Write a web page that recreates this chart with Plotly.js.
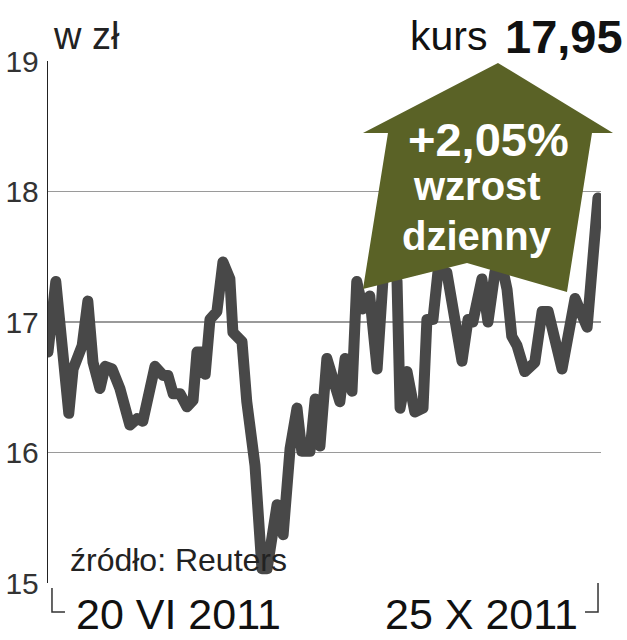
<!DOCTYPE html>
<html>
<head>
<meta charset="utf-8">
<script src="https://cdn.plot.ly/plotly-3.0.1.min.js"></script>
<style>
html,body{margin:0;padding:0;background:#fff;}
#chart{width:627px;height:640px;}
#chart .scatterlayer path.js-line{stroke-linejoin:round !important;stroke-linecap:round !important;}
</style>
</head>
<body>
<div id="chart"></div>
<script>
// day of period since 20 VI 2011 (calendar days)
var day = [0, 1.8, 4.8, 5.8, 7.9, 9.2, 10.4, 12.0, 13.2, 14.8, 16.6, 18.9, 20.6, 21.9, 24.7, 26.6, 27.7, 28.9, 30.5, 32.1,
  33.5, 34.4, 35.8, 36.3, 37.4, 39.0, 40.4, 42.0, 42.7, 44.8, 45.9, 47.8, 49.4, 50.6, 52.9, 54.3, 55.9, 57.5, 58.6, 60.5,
  61.7, 62.8, 64.4, 65.8, 67.4, 68.6, 70.2, 71.3, 72.7, 74.3, 76.0, 77.4, 79.0, 80.6, 81.3, 82.9, 84.7, 86.6, 87.5, 88.9,
  90.1, 92.1, 95.6, 97.0, 98.1, 100.2, 101.6, 103.2, 104.4, 106.0, 107.1, 108.3, 110.1, 112.4, 114.1, 115.5, 118.7, 121.7, 124.5, 127.0];
// kurs w zł
var price = [16.77, 17.31, 16.30, 16.64, 16.82, 17.16, 16.69, 16.49, 16.66, 16.64, 16.49, 16.21, 16.26, 16.24, 16.66, 16.59, 16.59, 16.45, 16.45, 16.35,
  16.40, 16.77, 16.77, 16.60, 17.02, 17.08, 17.46, 17.33, 16.92, 16.85, 16.39, 15.90, 15.11, 15.11, 15.60, 15.37, 16.03, 16.34, 16.01, 16.01,
  16.41, 16.05, 16.72, 16.54, 16.39, 16.72, 16.47, 17.31, 17.10, 17.20, 16.64, 17.35, 17.55, 17.31, 16.34, 16.62, 16.31, 16.34, 17.02, 17.02,
  17.40, 17.38, 16.70, 17.02, 17.00, 17.33, 17.00, 17.38, 17.50, 17.25, 16.89, 16.82, 16.62, 16.69, 17.08, 17.08, 16.64, 17.18, 16.96, 17.95];
var yTicks = [15, 16, 17, 18, 19];
var yTickText = ['15', '16', '17', '18', '19'];
var dateLabels = ['20 VI 2011', '25 X 2011'];

var W = 627, H = 640, L = 48, R = 601, T = 61, B = 583;
function px(x) { return (x - L) / (R - L); }
function py(y) { return (B - y) / (B - T); }
function path(pts) {
  return pts.map(function (p, i) { return (i ? 'L' : 'M') + px(p[0]).toFixed(4) + ',' + py(p[1]).toFixed(4); }).join(' ') ;
}
var F = '"Liberation Sans", Arial, sans-serif';
var arrow = [[498, 63], [613, 133], [592, 133], [567, 292], [467, 263], [363, 289], [388, 133], [363, 133]];

var trace = {
  x: day, y: price, type: 'scatter', mode: 'lines',
  line: { color: '#484848', width: 11 }, hoverinfo: 'skip'
};

var layout = {
  width: W, height: H,
  margin: { l: L, r: W - R, t: T, b: H - B, pad: 0 },
  paper_bgcolor: '#fff', plot_bgcolor: '#fff',
  showlegend: false,
  xaxis: { range: [0, 127.7], showgrid: false, zeroline: false, showticklabels: false, ticks: '', showline: false, fixedrange: true },
  yaxis: {
    range: [15, 19], tickvals: yTicks, ticktext: yTickText, showgrid: true, gridcolor: '#9a9a9a', gridwidth: 1.5,
    zeroline: false, showline: true, linecolor: '#222', linewidth: 1.2, ticks: '', ticklabelstandoff: 2,
    tickfont: { family: F, size: 30, color: '#333' }, fixedrange: true, automargin: false
  },
  shapes: [
    { type: 'path', xref: 'paper', yref: 'paper', path: path(arrow) + ' Z', fillcolor: '#5a6226', line: { width: 0 }, layer: 'above' },
    { type: 'path', xref: 'paper', yref: 'paper', path: path([[52, 588], [52, 612], [65, 612]]), line: { color: '#333', width: 1.5 } },
    { type: 'path', xref: 'paper', yref: 'paper', path: path([[598, 583], [598, 612], [585, 612]]), line: { color: '#333', width: 1.5 } }
  ],
  annotations: [
    { text: 'w zł', xref: 'paper', yref: 'paper', x: px(51), y: py(36), xanchor: 'left', yanchor: 'middle', showarrow: false, font: { family: F, size: 38, color: '#222' } },
    { text: 'kurs', xref: 'paper', yref: 'paper', x: px(489), y: py(36), xanchor: 'right', yanchor: 'middle', showarrow: false, font: { family: F, size: 41, color: '#111' } },
    { text: '<b>17,95</b>', xref: 'paper', yref: 'paper', x: px(625), y: py(36), xanchor: 'right', yanchor: 'middle', showarrow: false, font: { family: F, size: 47, color: '#111' } },
    { text: '<b>+2,05%</b>', xref: 'paper', yref: 'paper', x: px(488), y: py(139), xanchor: 'center', yanchor: 'middle', showarrow: false, font: { family: F, size: 47, color: '#fff' } },
    { text: '<b>wzrost</b>', xref: 'paper', yref: 'paper', x: px(477), y: py(186), xanchor: 'center', yanchor: 'middle', showarrow: false, font: { family: F, size: 40, color: '#fff' } },
    { text: '<b>dzienny</b>', xref: 'paper', yref: 'paper', x: px(477), y: py(236), xanchor: 'center', yanchor: 'middle', showarrow: false, font: { family: F, size: 40, color: '#fff' } },
    { text: 'źródło: Reuters', xref: 'paper', yref: 'paper', x: px(68), y: py(560), xanchor: 'left', yanchor: 'middle', showarrow: false, font: { family: F, size: 32, color: '#222' } },
    { text: dateLabels[0], xref: 'paper', yref: 'paper', x: px(74), y: py(614), xanchor: 'left', yanchor: 'middle', showarrow: false, font: { family: F, size: 43, color: '#111' } },
    { text: dateLabels[1], xref: 'paper', yref: 'paper', x: px(580), y: py(614), xanchor: 'right', yanchor: 'middle', showarrow: false, font: { family: F, size: 43, color: '#111' } }
  ]
};

Plotly.newPlot('chart', [trace], layout, { staticPlot: true, displayModeBar: false });
</script>
</body>
</html>
